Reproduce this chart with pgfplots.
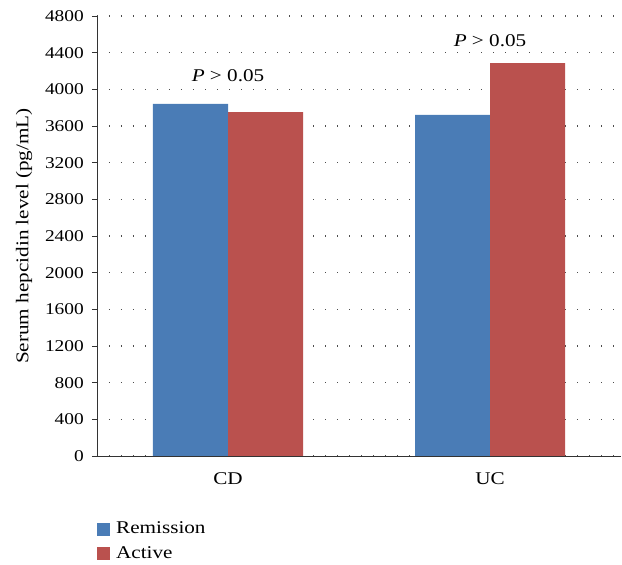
\documentclass[border=0pt]{standalone}
\usepackage{fontspec}
\setmainfont{Liberation Serif}[FakeStretch=1.18]
\usepackage{pgfplots}
\pgfplotsset{compat=1.18}
\definecolor{remblue}{HTML}{4A7CB6}
\definecolor{actred}{HTML}{BA514E}
\begin{document}
\fontsize{18}{21}\selectfont
\begin{tikzpicture}[x=1bp,y=1bp]
\begin{axis}[
  name=ax,
  scale only axis,
  width=524bp, height=440bp,
  xmin=-0.5, xmax=1.5,
  ymin=0, ymax=4800,
  ytick={0,400,...,4800},
  xtick={0,1},
  xticklabels={CD,UC},
  extra x ticks={0.5},
  extra x tick labels={},
  extra x tick style={major tick length=5bp, tick style={black}},
  x tick style={draw=none},
  axis x line*=bottom,
  axis y line*=left,
  axis line style={black!80, line width=0.9bp},
  y tick style={black!80, line width=0.9bp},
  tick align=outside,
  major tick length=5bp,
  /pgf/number format/assume math mode=true,
  /pgf/number format/1000 sep={},
  ymajorgrids,
  major grid style={black!70, line width=1.1bp, dash pattern=on 1.1bp off 10.9bp},
  ybar=0pt,
  bar width=75bp,
  ylabel={Serum hepcidin level (pg/mL)},
  ylabel style={at={(axis description cs:-0.139,0.5)}, anchor=center},
  yticklabel style={font=\fontsize{16.5}{19}\selectfont, xshift=-2bp},
  xticklabel style={font=\fontsize{18}{21}\selectfont, yshift=-5bp},
  label style={font=\fontsize{18}{21}\selectfont},
  legend style={at={(axis description cs:0,-0.14)}, anchor=north west, draw=none, fill=none,
    font=\fontsize{18}{21}\selectfont, row sep=6bp, inner xsep=0pt},
  legend cell align=left,
  legend image code/.code={\fill[#1] (0bp,-6.5bp) rectangle (13bp,6.5bp);},
  clip=false,
]
\addplot[fill=remblue, draw=none] coordinates {(0,3840) (1,3720)};
\addlegendentry{\hspace{4bp}Remission}
\addplot[fill=actred, draw=none] coordinates {(0,3750) (1,4285)};
\addlegendentry{\hspace{4bp}Active}
\node[font=\fontsize{18}{21}\selectfont] at (axis cs:0,4145) {\textit{P} > 0.05};
\node[font=\fontsize{18}{21}\selectfont] at (axis cs:1,4530) {\textit{P} > 0.05};
\end{axis}
\path[use as bounding box] ([shift={(-97bp,-108bp)}]ax.south west) rectangle ([shift={(1bp,16bp)}]ax.north east);
\end{tikzpicture}
\end{document}
